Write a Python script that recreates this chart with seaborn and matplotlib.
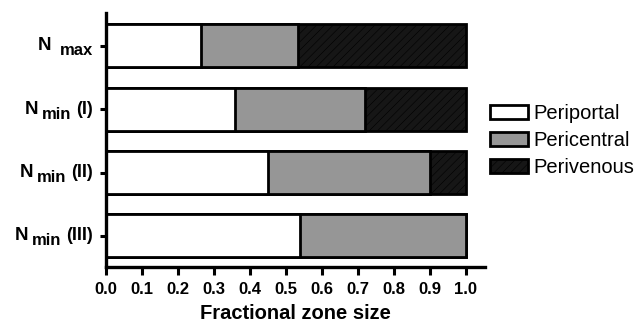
import matplotlib
matplotlib.use("Agg")
import matplotlib.pyplot as plt
import seaborn as sns
import pandas as pd
import numpy as np
from matplotlib.patches import Patch

# Zone fractions for each model variant
cond_main = ["N", "N", "N", "N"]
cond_sub = ["max", "min", "min", "min"]
cond_suffix = ["", "(I)", "(II)", "(III)"]
conditions = [f"{m}{s} {x}".strip() for m, s, x in zip(cond_main, cond_sub, cond_suffix)]
periportal = [0.265, 0.36, 0.45, 0.54]
pericentral = [0.27, 0.36, 0.45, 0.46]
perivenous = [0.465, 0.28, 0.10, 0.0]
zones = ["Periportal", "Pericentral", "Perivenous"]
zone_colors = ["#ffffff", "#969696", "#161616"]

sns.set_theme(style="ticks")
plt.rcParams["font.family"] = ["Liberation Sans", "DejaVu Sans"]
plt.rcParams["hatch.linewidth"] = 0.4
for key in ["text.color", "axes.labelcolor", "xtick.color", "ytick.color", "axes.edgecolor"]:
    plt.rcParams[key] = "black"

df = pd.DataFrame({
    "condition": conditions,
    "Periportal": periportal,
    "Pericentral": pericentral,
    "Perivenous": perivenous,
})
# cumulative extents so that each stacked segment is drawn on top of the next one
df["cum1"] = df["Periportal"]
df["cum2"] = df["Periportal"] + df["Pericentral"]
df["cum3"] = df["cum2"] + df["Perivenous"]

fig = plt.figure(figsize=(6.38, 3.25), dpi=100)
ax = fig.add_axes([106 / 638, 1 - 267 / 325, (485 - 106) / 638, (267 - 13) / 325])

bar_w = 0.68
for col, color, hatch in [("cum3", zone_colors[2], "////"),
                          ("cum2", zone_colors[1], None),
                          ("cum1", zone_colors[0], None)]:
    n_before = len(ax.patches)
    sns.barplot(data=df, x=col, y="condition", orient="h", color=color,
                width=bar_w, edgecolor="black", linewidth=2.0, saturation=1,
                ax=ax)
    for p in ax.patches[n_before:]:
        p.set_facecolor(color)
        if hatch:
            p.set_hatch(hatch)

ax.set_xlim(0, 1.054)
ax.set_ylim(3.49, -0.52)
xt = np.round(np.arange(0, 1.01, 0.1), 1)
ax.set_xticks(xt)
ax.set_xticklabels([f"{v:.1f}" for v in xt], fontsize=12, fontweight="bold", color="black")
ax.set_yticks(range(len(conditions)))
ax.set_yticklabels([""] * len(conditions))
ax.set_xlabel("Fractional zone size", fontsize=14.5, fontweight="bold", labelpad=5,
              color="black")
ax.set_ylabel("")

# category labels: "N" with a lowered "max"/"min" and an optional suffix
ytrans = ax.get_yaxis_transform()
for i, (m, s, x) in enumerate(zip(cond_main, cond_sub, cond_suffix)):
    if x:
        anchor = ax.annotate(x, xy=(0, i), xycoords=ytrans, xytext=(-9.5, 0),
                             textcoords="offset points", ha="right", va="center",
                             fontsize=13, fontweight="bold", color="black")
        sub = ax.annotate(s, xy=(0, 0.5), xycoords=anchor, xytext=(-3.5, -3.5),
                          textcoords="offset points", ha="right", va="center",
                          fontsize=12, fontweight="bold", color="black")
    else:
        sub = ax.annotate(s, xy=(0, i), xycoords=ytrans, xytext=(-9.5, -3.5),
                          textcoords="offset points", ha="right", va="center",
                          fontsize=12, fontweight="bold", color="black")
    ax.annotate(m, xy=(0, 0.5), xycoords=sub, xytext=(-2.5 if x else -6, 3.5),
                textcoords="offset points", ha="right", va="center",
                fontsize=13.5, fontweight="bold", color="black")

for side in ["top", "right"]:
    ax.spines[side].set_visible(False)
for side in ["left", "bottom"]:
    ax.spines[side].set_linewidth(2.4)
    ax.spines[side].set_color("black")
ax.tick_params(axis="x", length=6, width=2.2, color="black", pad=5)
ax.tick_params(axis="y", length=4, width=2.2, color="black", pad=2)

handles = [Patch(facecolor=c, edgecolor="black", linewidth=2.0,
                 hatch=("////" if z == "Perivenous" else None), label=z)
           for z, c in zip(zones, zone_colors)]
fig.legend(handles=handles, loc="center left", bbox_to_anchor=(490 / 638, 1 - 140.5 / 325),
           frameon=False, fontsize=14.5, handlelength=1.9, handleheight=0.65,
           handletextpad=0.25, labelspacing=0.4, borderpad=0, borderaxespad=0,
           labelcolor="black")

fig.savefig("out.png", dpi=100, facecolor="white")
